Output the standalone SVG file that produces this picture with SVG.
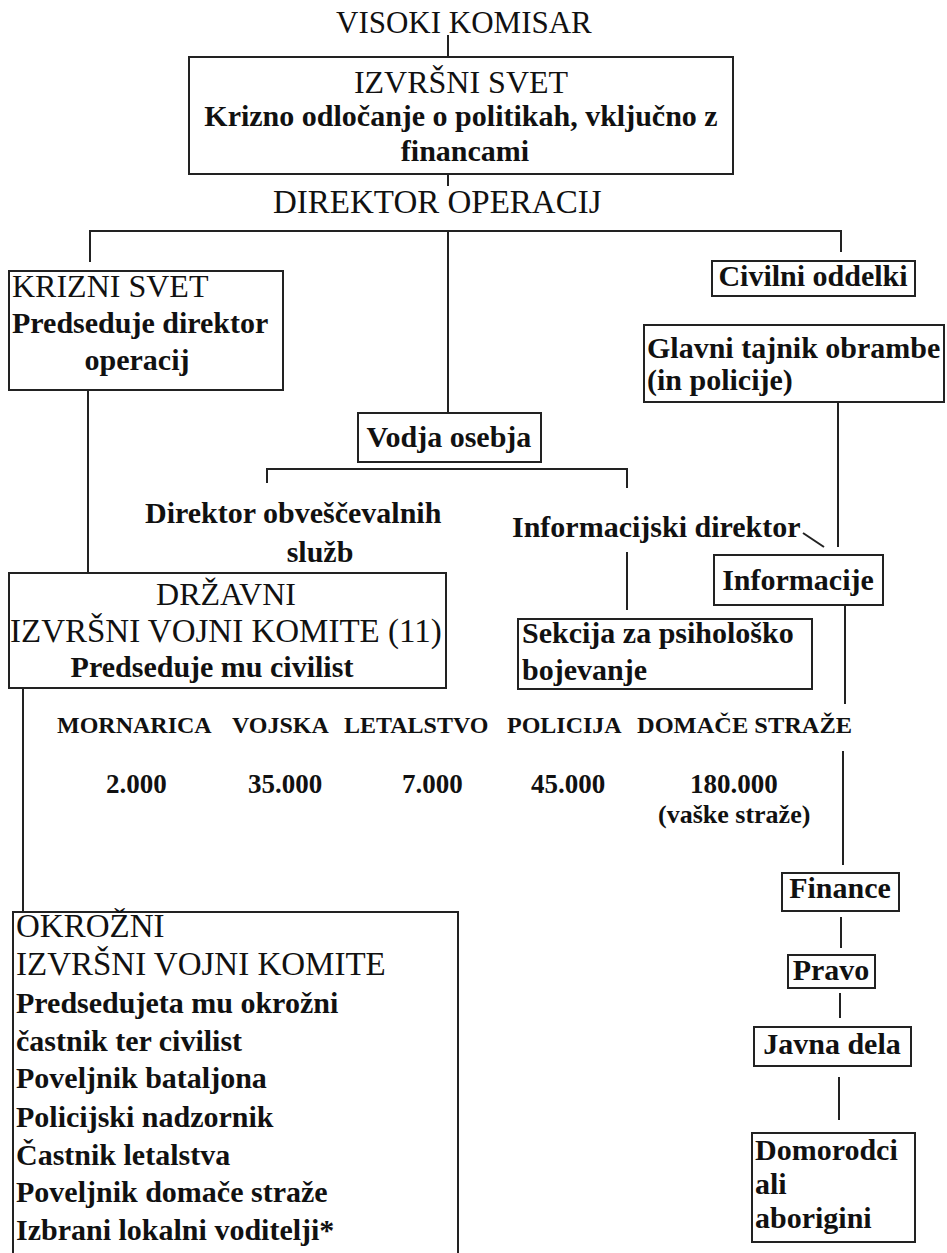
<svg xmlns="http://www.w3.org/2000/svg" width="947" height="1253" viewBox="0 0 947 1253">
<style>
text{font-family:"Liberation Serif","Times New Roman",serif;fill:#111}
.r{font-size:32px}
.r33{font-size:33px}
.b{font-size:30px;font-weight:bold}
.s{font-size:24px;font-weight:bold}
.n{font-size:27px;font-weight:bold}
.m{text-anchor:middle}
.box{fill:#fff;stroke:#222;stroke-width:2}
#connectors line{stroke:#222;stroke-width:2}
</style>
<rect x="0" y="0" width="947" height="1253" style="fill:#fff;stroke:none"/>
<g id="connectors">
<line x1="448" y1="35" x2="448" y2="57"/>
<line x1="448" y1="174" x2="448" y2="186"/>
<line x1="89" y1="231" x2="842" y2="231"/>
<line x1="90" y1="230" x2="90" y2="262"/>
<line x1="841" y1="230" x2="841" y2="252"/>
<line x1="448" y1="230" x2="448" y2="413"/>
<line x1="88" y1="390" x2="88" y2="573"/>
<line x1="266" y1="469" x2="628" y2="469"/>
<line x1="267" y1="468" x2="267" y2="483"/>
<line x1="627" y1="468" x2="627" y2="488"/>
<line x1="627" y1="552" x2="627" y2="610"/>
<line x1="803" y1="533" x2="824" y2="547"/>
<line x1="838" y1="402" x2="838" y2="547"/>
<line x1="845" y1="605" x2="845" y2="704"/>
<line x1="843" y1="751" x2="843" y2="865"/>
<line x1="841" y1="917" x2="841" y2="948"/>
<line x1="840" y1="993" x2="840" y2="1018"/>
<line x1="839" y1="1077" x2="839" y2="1120"/>
<line x1="23" y1="688" x2="23" y2="912"/>
</g>
<g id="visoki-komisar">
<text class="r" x="336" y="33" style="font-size:31px">VISOKI KOMISAR</text>
</g>
<g id="izvrsni-svet">
<rect class="box" x="189" y="57" width="544" height="117"/>
<text class="r m" x="461" y="93">IZVRŠNI SVET</text>
<text class="b m" x="461" y="126">Krizno odločanje o politikah, vključno z</text>
<text class="b m" x="465" y="161">financami</text>
</g>
<g id="direktor-operacij">
<text class="r33" x="273" y="213">DIREKTOR OPERACIJ</text>
</g>
<g id="krizni-svet">
<rect class="box" x="9" y="271" width="274" height="119"/>
<text class="r" x="12" y="297">KRIZNI SVET</text>
<text class="b" x="12" y="333">Predseduje direktor</text>
<text class="b m" x="137" y="370">operacij</text>
</g>
<g id="civilni-oddelki">
<rect class="box" x="712" y="261" width="203" height="35"/>
<text class="b m" x="813" y="286">Civilni oddelki</text>
</g>
<g id="glavni-tajnik">
<rect class="box" x="644" y="325" width="300" height="77"/>
<text class="b" x="647" y="358">Glavni tajnik obrambe</text>
<text class="b" x="647" y="390">(in policije)</text>
</g>
<g id="vodja-osebja">
<rect class="box" x="358" y="413" width="183" height="49"/>
<text class="b m" x="449" y="447">Vodja osebja</text>
</g>
<g id="direktor-obvescevalnih">
<text class="b" x="145" y="523">Direktor obveščevalnih</text>
<text class="b m" x="320" y="562">služb</text>
</g>
<g id="informacijski-direktor">
<text class="b" x="512" y="537">Informacijski direktor</text>
</g>
<g id="informacije">
<rect class="box" x="714" y="555" width="169" height="50"/>
<text class="b m" x="798" y="590">Informacije</text>
</g>
<g id="sekcija">
<rect class="box" x="518" y="619" width="294" height="70"/>
<text class="b" x="522" y="643">Sekcija za psihološko</text>
<text class="b" x="522" y="680">bojevanje</text>
</g>
<g id="drzavni">
<rect class="box" x="9" y="573" width="437" height="115"/>
<text class="r m" x="226" y="605">DRŽAVNI</text>
<text class="r33" x="10" y="642">IZVRŠNI VOJNI KOMITE (11)</text>
<text class="b m" x="212" y="677">Predseduje mu civilist</text>
</g>
<g id="sile">
<text class="s" x="57" y="733">MORNARICA</text>
<text class="s" x="232" y="733">VOJSKA</text>
<text class="s" x="344" y="733">LETALSTVO</text>
<text class="s" x="507" y="733">POLICIJA</text>
<text class="s" x="637" y="733" textLength="215" lengthAdjust="spacingAndGlyphs">DOMAČE STRAŽE</text>
<text class="n" x="106" y="793">2.000</text>
<text class="n" x="248" y="793">35.000</text>
<text class="n" x="402" y="793">7.000</text>
<text class="n" x="531" y="793">45.000</text>
<text class="n" x="690" y="793">180.000</text>
<text class="s" x="658" y="823" style="font-size:26px">(vaške straže)</text>
</g>
<g id="finance">
<rect class="box" x="782" y="873" width="117" height="38"/>
<text class="b m" x="840" y="898">Finance</text>
</g>
<g id="pravo">
<rect class="box" x="788" y="955" width="87" height="33"/>
<text class="b m" x="831" y="980">Pravo</text>
</g>
<g id="javna-dela">
<rect class="box" x="754" y="1027" width="157" height="39"/>
<text class="b m" x="832" y="1054">Javna dela</text>
</g>
<g id="domorodci">
<rect class="box" x="752" y="1133" width="163" height="109"/>
<text class="b" x="755" y="1160">Domorodci</text>
<text class="b" x="755" y="1194">ali</text>
<text class="b" x="755" y="1228">aborigini</text>
</g>
<g id="okrozni">
<rect class="box" x="13" y="912" width="445" height="360"/>
<text class="r33" x="16" y="937">OKROŽNI</text>
<text class="r33" x="16" y="975">IZVRŠNI VOJNI KOMITE</text>
<text class="b" x="16" y="1013">Predsedujeta mu okrožni</text>
<text class="b" x="16" y="1051">častnik ter civilist</text>
<text class="b" x="16" y="1088">Poveljnik bataljona</text>
<text class="b" x="16" y="1127">Policijski nadzornik</text>
<text class="b" x="16" y="1165">Častnik letalstva</text>
<text class="b" x="16" y="1202">Poveljnik domače straže</text>
<text class="b" x="16" y="1240">Izbrani lokalni voditelji*</text>
</g>
</svg>
